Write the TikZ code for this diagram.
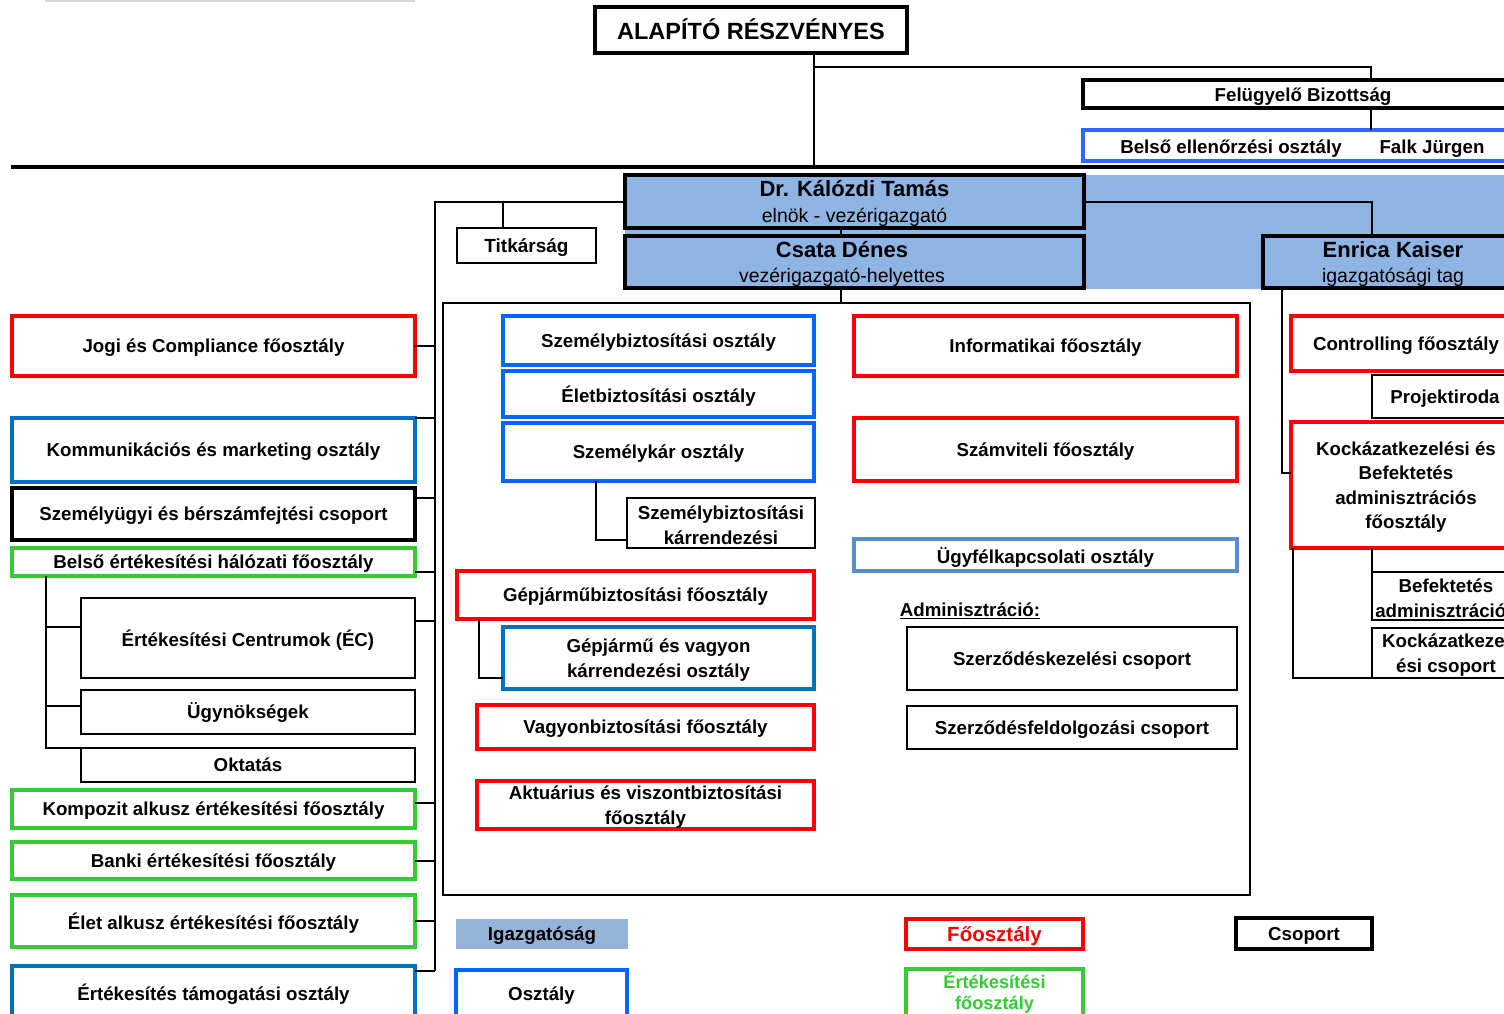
\documentclass[tikz,border=0pt]{standalone}
\usepackage{fontspec}
\setmainfont{Liberation Sans}
\usetikzlibrary{calc}
\definecolor{cred}{HTML}{FF0000}
\definecolor{cblueK}{HTML}{0070C0}
\definecolor{cblueB}{HTML}{0066FF}
\definecolor{cblueE}{HTML}{3366FF}
\definecolor{cblueU}{HTML}{558ED5}
\definecolor{cgreen}{HTML}{33CC33}
\definecolor{igfill}{HTML}{8DB4E2}
\definecolor{legfill}{HTML}{95B3D7}
\definecolor{topgray}{HTML}{D9D9D9}
\newcommand\fsz[2]{\fontsize{#1}{#2}\selectfont}
\newcommand\tdy{2}
\newcommand{\orgbox}[7]{%
  \node[#1, minimum width={(#4)-(#2)}, minimum height={(#5)-(#3)}] (#6) at ({((#2)+(#4))/2},{((#3)+(#5))/2}) {};%
  \node[#1, draw=none, fill=none, minimum width=0pt, minimum height=0pt] (#6t) at ({((#2)+(#4))/2},{((#3)+(#5))/2+\tdy}) {#7};}
\begin{document}
\begin{tikzpicture}[x=1pt,y=-1pt,
  every node/.style={inner sep=0pt, outer sep=0pt, align=center, font=\bfseries\fsz{18.7}{24.5}},
  conn/.style={draw=black, line width=2pt},
  thickbox/.style={draw=black, line width=4pt},
  midbox/.style={draw=black, line width=3.5pt},
  thinbox/.style={draw=black, line width=2pt},
  redbox/.style={draw=cred, line width=3.5pt},
  blueK/.style={draw=cblueK, line width=3.2pt},
  blueB/.style={draw=cblueB, line width=3.2pt},
  blueE/.style={draw=cblueE, line width=3.2pt},
  blueU/.style={draw=cblueU, line width=3.2pt},
  greenbox/.style={draw=cgreen, line width=3.2pt},
  igbox/.style={draw=black, fill=igfill, line width=4pt, font=\bfseries\fsz{22}{25.5}},
  plaintext/.style={font=\bfseries\fsz{18.7}{24.5}}
]
\useasboundingbox (0,0) rectangle (1504,1014);
\clip (0,0) rectangle (1504,1014);

% top faint line
\coordinate (tg1) at (45,0.8); \coordinate (tg2) at (415,0.8);
\draw[topgray, line width=1.6pt] (tg1) -- (tg2);

% top level
\renewcommand\tdy{-1}
\orgbox{thickbox, font=\bfseries\fsz{23.5}{28}}{595}{7}{907}{53}{alap}{ALAPÍTÓ RÉSZVÉNYES}
\renewcommand\tdy{2.5}
\orgbox{midbox}{1083}{80}{1523}{108}{felu}{Felügyelő Bizottság}
\orgbox{blueE}{1083}{130}{1523}{161}{bello}{}
\node[plaintext] (bellot) at (1231,148.5) {Belső ellenőrzési osztály};
\node[plaintext] (falk) at (1432,148.5) {Falk Jürgen};
\renewcommand\tdy{2}

\coordinate (hlL) at (11,167); \coordinate (hlR) at (1523,167);
\draw[line width=4.3pt] (hlL) -- (hlR);

\coordinate (j1) at (814,67);
\draw[conn] (alap.south -| j1) -- (j1 |- hlL);
\draw[conn] (j1) -| ([xshift=68pt]felu.north);
\draw[conn] ([xshift=68pt]felu.south) -- ([xshift=68pt]felu.south |- bello.north);

% board
\fill[igfill] (625,175) rectangle (1523,289);
\orgbox{igbox}{625}{175}{1084}{228}{kal}{Dr. Kálózdi Tamás\\{\mdseries\fsz{19.5}{25.5}elnök - vezérigazgató}}
\orgbox{igbox}{625}{236}{1084}{288}{csata}{}
\node[font=\bfseries\fsz{22}{25.5}] (csatat) at (842,264) {Csata Dénes\\{\mdseries\fsz{19.5}{25.5}vezérigazgató-helyettes}};
\orgbox{igbox}{1263}{236}{1523}{288}{enrica}{Enrica Kaiser\\{\mdseries\fsz{19.5}{25.5}igazgatósági tag}}

\orgbox{thinbox, font=\bfseries\fsz{19}{22}}{457}{228}{596}{263}{titk}{Titkárság}

% inner frame
\orgbox{thinbox}{443}{303}{1250}{895}{inner}{}

\coordinate (spineB) at (435,971);
\draw[conn] (kal.west) -| (spineB);
\draw[conn] ([xshift=-23.5pt]titk.north) -- ([xshift=-23.5pt]titk.north |- kal.west);
\draw[conn] ([xshift=-13.5pt]kal.south) -- ([xshift=-13.5pt]csata.north);
\draw[conn] ([xshift=-13.5pt]csata.south) -- ([xshift=-13.5pt]csata.south |- inner.north);
\draw[conn] (kal.east) -| ([xshift=-21pt]enrica.north);

% left column
\orgbox{redbox}{12}{316}{415}{376}{jogi}{Jogi és Compliance főosztály}
\orgbox{blueK}{12}{418}{415}{482}{komm}{Kommunikációs és marketing osztály}
\orgbox{thickbox}{12}{488}{415}{540}{szemu}{Személyügyi és bérszámfejtési csoport}
\orgbox{greenbox}{12}{548}{415}{576}{belsoert}{Belső értékesítési hálózati főosztály}
\orgbox{thinbox}{81}{598}{415}{678}{ec}{Értékesítési Centrumok (ÉC)}
\renewcommand\tdy{0}
\orgbox{thinbox}{81}{690}{415}{734}{ugyn}{Ügynökségek}
\orgbox{thinbox}{81}{748}{415}{782}{okt}{Oktatás}
\renewcommand\tdy{2}
\orgbox{greenbox}{12}{790}{415}{828}{kompozit}{Kompozit alkusz értékesítési főosztály}
\orgbox{greenbox}{12}{842}{415}{879}{banki}{Banki értékesítési főosztály}
\orgbox{greenbox}{12}{895}{415}{947}{elet}{Élet alkusz értékesítési főosztály}
\orgbox{blueK}{12}{966}{415}{1018}{ertam}{Értékesítés támogatási osztály}

\draw[conn] (jogi.east) -- (jogi.east -| spineB);
\draw[conn] (komm.north east) -- (komm.north east -| spineB);
\draw[conn] ([yshift=-10pt]szemu.north east) -- ([yshift=-10pt]szemu.north east -| spineB);
\draw[conn] ([yshift=-24pt]belsoert.north east) -- ([yshift=-24pt]belsoert.north east -| spineB);
\draw[conn] ([yshift=-23pt]ec.north east) -- ([yshift=-23pt]ec.north east -| spineB);
\draw[conn] ([yshift=-13pt]kompozit.north east) -- ([yshift=-13pt]kompozit.north east -| spineB);
\draw[conn] (banki.east) -- (banki.east -| spineB);
\draw[conn] (elet.east) -- (elet.east -| spineB);
\draw[conn] ([yshift=-5pt]ertam.north east) -- ([yshift=-5pt]ertam.north east -| spineB);

\coordinate (subsp) at ([xshift=34pt]belsoert.south west);
\draw[conn] (subsp) |- (okt.north west);
\draw[conn] ([yshift=-29pt]ec.north west) -- ([yshift=-29pt]ec.north west -| subsp);
\draw[conn] ([yshift=-16pt]ugyn.north west) -- ([yshift=-16pt]ugyn.north west -| subsp);

% middle column
\orgbox{blueB}{503}{316}{814}{365}{szbo}{Személybiztosítási osztály}
\orgbox{blueB}{503}{371}{814}{417}{eletb}{Életbiztosítási osztály}
\orgbox{blueB}{503}{423}{814}{481}{szkar}{Személykár osztály}
\orgbox{thinbox}{627}{498}{815}{548}{szkarr}{Személybiztosítási\\kárrendezési}
\orgbox{redbox}{457}{571}{814}{619}{gepfo}{Gépjárműbiztosítási főosztály}
\orgbox{blueK}{503}{627}{814}{689}{gepvag}{Gépjármű és vagyon\\kárrendezési osztály}
\orgbox{redbox}{477}{705}{814}{749}{vagyon}{Vagyonbiztosítási főosztály}
\orgbox{redbox}{477}{781}{814}{829}{aktu}{Aktuárius és viszontbiztosítási\\főosztály}

\draw[conn] ([xshift=-62.5pt]szkar.south) |- ([yshift=8pt]szkarr.south west);
\draw[conn] ([xshift=22pt]gepfo.south west) |- ([yshift=11pt]gepvag.south west);

% right inner column
\orgbox{redbox}{854}{316}{1237}{376}{info}{Informatikai főosztály}
\orgbox{redbox}{854}{418}{1237}{481}{szamv}{Számviteli főosztály}
\orgbox{blueU}{854}{539}{1237}{571}{ugyf}{Ügyfélkapcsolati osztály}
\node[plaintext] (admin) at (970,611) {\underline{Adminisztráció:}};
\orgbox{thinbox}{907}{627}{1237}{690}{szkez}{Szerződéskezelési csoport}
\orgbox{thinbox}{907}{706}{1237}{749}{szfeld}{Szerződésfeldolgozási csoport}

% right column (Enrica)
\orgbox{redbox}{1291}{316}{1521}{371}{contr}{Controlling főosztály}
\orgbox{thinbox}{1372}{375}{1518}{418}{proj}{Projektiroda}
\orgbox{redbox}{1291}{422}{1521}{548}{kock}{Kockázatkezelési és\\Befektetés\\adminisztrációs\\főosztály}
\orgbox{thinbox}{1372}{572}{1520}{620}{befad}{Befektetés\\adminisztrációs}
\orgbox{thinbox}{1372}{628}{1520}{678}{kockcs}{Kockázatkezel\\ési csoport}

\draw[conn] ([xshift=-111pt]enrica.south) |- ([yshift=12pt]kock.west);
\draw[conn] ([xshift=2pt]kock.south west) |- (kockcs.south west);
\draw[conn] (kock.south -| befad.west) -- (befad.north west);

% legend
\orgbox{fill=legfill}{456}{919}{628}{949}{lig}{Igazgatóság}
\orgbox{blueB, line width=3.5pt}{456}{970}{627}{1018}{losz}{Osztály}
\orgbox{redbox, text=cred, font=\bfseries\fsz{20.5}{24}}{906}{919}{1083}{949}{lfo}{Főosztály}
\renewcommand\tdy{-1.5}
\orgbox{greenbox, text=cgreen, font=\bfseries\fsz{18.2}{21.5}}{906}{969}{1083}{1020}{lert}{Értékesítési\\főosztály}
\renewcommand\tdy{2}
\orgbox{thickbox}{1236}{918}{1372}{949}{lcs}{Csoport}
\end{tikzpicture}
\end{document}
